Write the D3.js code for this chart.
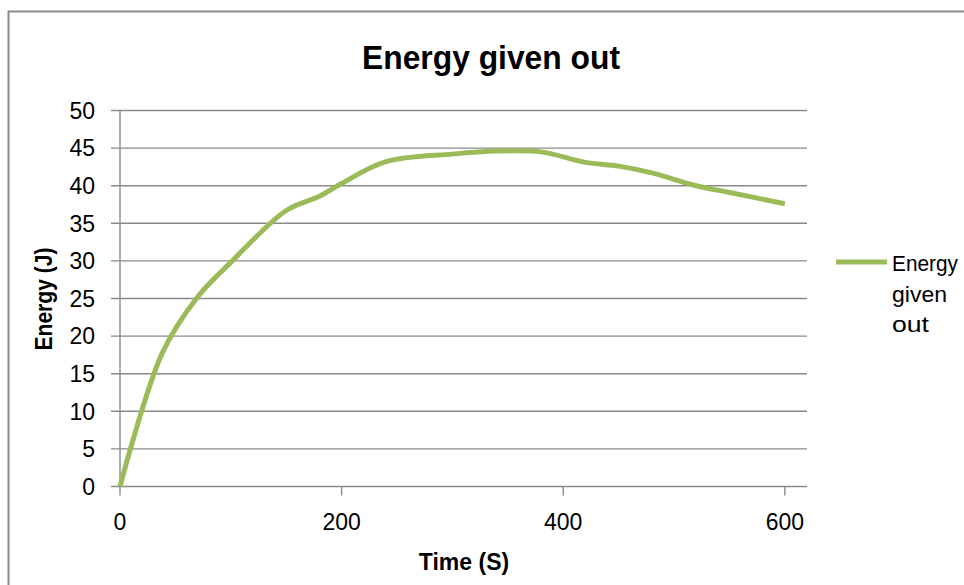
<!DOCTYPE html>
<html>
<head>
<meta charset="utf-8">
<script src="https://cdn.jsdelivr.net/npm/d3@7"></script>
<style>
  html, body { margin: 0; padding: 0; background: #fff; }
  svg { display: block; font-family: "Liberation Sans", Arial, sans-serif; }
</style>
</head>
<body>
<svg id="chart" width="964" height="585"></svg>
<script>
// Energy released over time (seconds -> joules)
const times  = [0, 38, 70, 100, 150, 180, 200, 240, 300, 340, 380, 420, 450, 480, 520, 550, 600];
const energy = [0, 17.7, 25.2, 29.8, 36.7, 38.6, 40.3, 43.2, 44.2, 44.6, 44.5, 43.1, 42.6, 41.7, 40.0, 39.1, 37.6];
const xTicks = [0, 200, 400, 600];
const yTicks = [0, 5, 10, 15, 20, 25, 30, 35, 40, 45, 50];
const seriesName = "Energy given out";

const svg = d3.select("#chart");
const gridColor = "#8a8a8a";
const lineColor = "#9bbb59";

// outer chart frame
svg.append("rect")
  .attr("x", 8.5).attr("y", 11.5)
  .attr("width", 1000).attr("height", 700)
  .attr("fill", "#fff")
  .attr("stroke", "#8c8c8c").attr("stroke-width", 2);

const x = d3.scaleLinear().domain([0, 620]).range([120, 807]);
const y = d3.scaleLinear().domain([0, 50]).range([486.5, 110.5]);

// horizontal gridlines with left tick stubs
svg.append("g").selectAll("line")
  .data(yTicks).join("line")
  .attr("x1", 111).attr("x2", x.range()[1])
  .attr("y1", d => y(d)).attr("y2", d => y(d))
  .attr("stroke", gridColor).attr("stroke-width", 1.4);

// vertical axis line
svg.append("line")
  .attr("x1", x(0)).attr("x2", x(0))
  .attr("y1", y(50)).attr("y2", y(0) + 9)
  .attr("stroke", gridColor).attr("stroke-width", 1.4);

// x tick marks
svg.append("g").selectAll("line")
  .data(xTicks.slice(1)).join("line")
  .attr("x1", d => x(d)).attr("x2", d => x(d))
  .attr("y1", y(0)).attr("y2", y(0) + 9)
  .attr("stroke", gridColor).attr("stroke-width", 1.4);

// y tick labels
svg.append("g").selectAll("text")
  .data(yTicks).join("text")
  .attr("x", 95).attr("y", d => y(d))
  .attr("dy", "0.36em")
  .attr("text-anchor", "end")
  .attr("font-size", 23).attr("fill", "#000")
  .text(d => d);

// x tick labels
svg.append("g").selectAll("text")
  .data(xTicks).join("text")
  .attr("x", d => x(d)).attr("y", 530)
  .attr("text-anchor", "middle")
  .attr("font-size", 23).attr("fill", "#000")
  .text(d => d);

// data line
const line = d3.line()
  .x((d, i) => x(times[i]))
  .y(d => y(d))
  .curve(d3.curveCatmullRom.alpha(0.5));

svg.append("path")
  .datum(energy)
  .attr("d", line)
  .attr("fill", "none")
  .attr("stroke", lineColor)
  .attr("stroke-width", 5)
  .attr("stroke-linejoin", "round")
  .attr("stroke-linecap", "butt");

// title
svg.append("text")
  .attr("x", 491).attr("y", 69)
  .attr("text-anchor", "middle")
  .attr("font-size", 33).attr("font-weight", "bold")
  .attr("textLength", 258).attr("lengthAdjust", "spacingAndGlyphs")
  .text(seriesName);

// axis titles
svg.append("text")
  .attr("x", 464).attr("y", 570)
  .attr("text-anchor", "middle")
  .attr("font-size", 23).attr("font-weight", "bold")
  .text("Time (S)");

svg.append("text")
  .attr("transform", "translate(52,299) rotate(-90)")
  .attr("text-anchor", "middle")
  .attr("font-size", 23).attr("font-weight", "bold")
  .attr("textLength", 103).attr("lengthAdjust", "spacingAndGlyphs")
  .text("Energy (J)");

// legend: swatch plus series name wrapped over three lines
const legend = svg.append("g");
legend.append("line")
  .attr("x1", 836).attr("x2", 887)
  .attr("y1", 262).attr("y2", 262)
  .attr("stroke", lineColor).attr("stroke-width", 5);
const words = seriesName.split(" ");
const wordWidths = [66, 55, 37];
legend.selectAll("text")
  .data(words).join("text")
  .attr("x", 892)
  .attr("y", (d, i) => 271 + i * 30.5)
  .attr("font-size", 22)
  .attr("textLength", (d, i) => wordWidths[i])
  .attr("lengthAdjust", "spacingAndGlyphs")
  .text(d => d);
</script>
</body>
</html>
